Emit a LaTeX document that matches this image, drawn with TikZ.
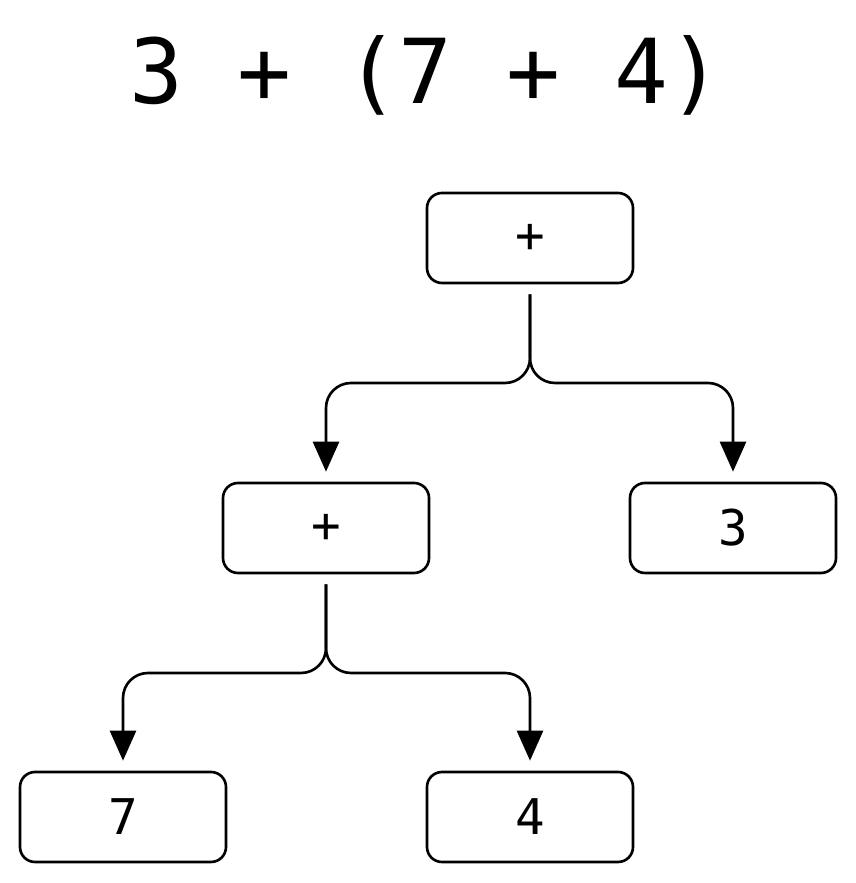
\documentclass[tikz,border=0pt]{standalone}
\usepackage{fontspec}
\setmonofont{DejaVu Sans Mono}
\usetikzlibrary{arrows.meta}
\tikzset{
  box/.style={draw, line width=1.5pt, rounded corners=0.3cm,
    minimum width=4.12cm, minimum height=1.8cm,
    font=\ttfamily\fontsize{28}{28}\selectfont},
  link/.style={line width=1.5pt, rounded corners=0.5cm,
    -{Triangle[width=0.52cm,length=0.6cm]}}
}
\begin{document}
\begin{tikzpicture}
\useasboundingbox (0,0) rectangle (17.12,17.66);
% title
\node[font=\ttfamily\fontsize{51}{51}\selectfont] (title) at (8.52,16.16) {3 + (7 + 4)};
% tree
\node[box] (root) at (10.6,12.9) {+};
\node[box] (inner) at (6.52,7.1) {+};
\node[box] (three) at (14.66,7.1) {3};
\node[box] (seven) at (2.46,1.32) {7};
\node[box] (four) at (10.6,1.32) {4};
\coordinate (split1) at (10.6,10.0);
\coordinate (split2) at (6.52,4.2);
% links
\draw[link] ([yshift=-0.2cm]root.south) -- (split1) -| ([yshift=0.2cm]inner.north);
\draw[link] ([yshift=-0.2cm]root.south) -- (split1) -| ([yshift=0.2cm]three.north);
\draw[link] ([yshift=-0.2cm]inner.south) -- (split2) -| ([yshift=0.2cm]seven.north);
\draw[link] ([yshift=-0.2cm]inner.south) -- (split2) -| ([yshift=0.2cm]four.north);
\end{tikzpicture}
\end{document}
